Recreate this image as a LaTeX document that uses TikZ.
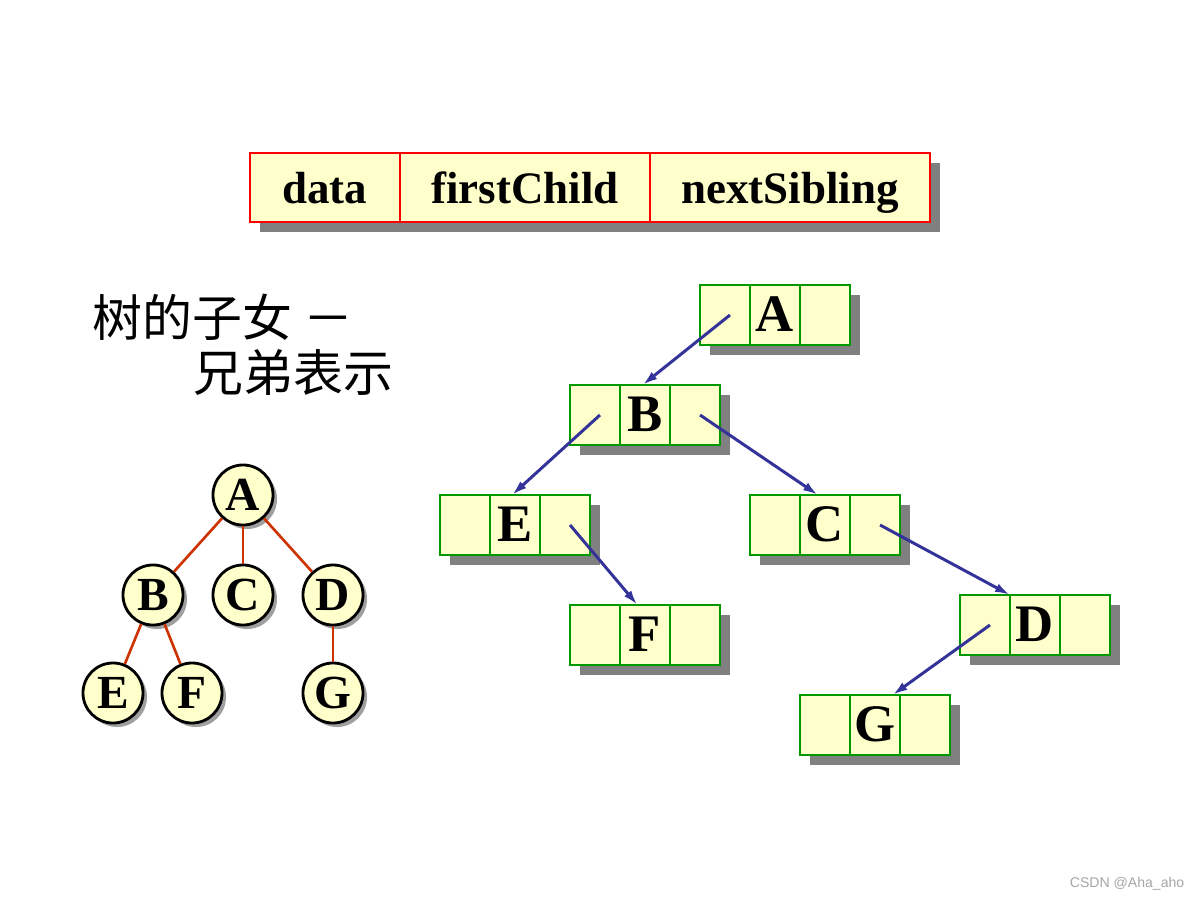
\documentclass[tikz,border=0pt]{standalone}
\usepackage{fontspec}
\setmainfont{Liberation Serif}
\newfontfamily\cjk{Noto Sans CJK SC}
\newfontfamily\wmfont{Liberation Sans}
\usepackage{tikz}
\usetikzlibrary{arrows.meta, calc, positioning, shadows}
\definecolor{cellfill}{HTML}{FFFFCC}
\definecolor{cellgreen}{HTML}{009900}
\definecolor{hdrred}{HTML}{FF0000}
\definecolor{ptrblue}{HTML}{333399}
\definecolor{treered}{HTML}{CC3300}
\definecolor{shadowg}{HTML}{808080}
\tikzset{
  hdrcell/.style   = {rectangle, draw=hdrred, fill=cellfill, line width=0.6pt,
                      minimum height=0.69cm, inner sep=0pt, outer sep=0pt,
                      text height=3.5mm, text depth=0.3mm,
                      font=\fontsize{12.8}{13}\selectfont\bfseries},
  reccell/.style   = {rectangle, draw=cellgreen, fill=cellfill, line width=0.8pt,
                      minimum width=0.5cm, minimum height=0.6cm, inner sep=0pt,
                      outer sep=0pt, text height=3.3mm, text depth=0pt,
                      font=\fontsize{15}{15}\selectfont\bfseries},
  recshadow/.style = {fill=shadowg},
  treenode/.style  = {circle, draw=black, fill=cellfill, line width=0.8pt,
                      minimum size=0.6cm, inner sep=0pt,
                      font=\fontsize{13.5}{13.5}\selectfont\bfseries,
                      drop shadow={shadow xshift=0.4mm, shadow yshift=-0.4mm,
                                   fill=gray!75, opacity=1}},
  treeedge/.style  = {draw=treered, line width=0.75pt},
  ptr/.style       = {draw=ptrblue, line width=0.85pt,
                      -{Latex[length=1.5mm, width=0.9mm]}},
  caption/.style   = {anchor=west, inner sep=0pt,
                      font=\cjk\fontsize{14.2}{14}\selectfont},
}
% one record: shadow, three cells, and the two pointer start points
\newcommand{\recbox}[3]{%
  \fill[recshadow] ($(#2)+(-65,-20)$) rectangle ($(#2)+(85,40)$);
  \node[reccell] (#1m) at (#2) {#3};
  \node[reccell, left=0pt of #1m] (#1l) {};
  \node[reccell, right=0pt of #1m] (#1r) {};
  \coordinate (#1fc) at ($(#1l.center)+(5,0)$);
  \coordinate (#1ns) at ($(#1r.center)+(5,0)$);
}

\begin{document}
\begin{tikzpicture}[x=0.01cm, y=-0.01cm]
    \useasboundingbox[fill=white] (0,0) rectangle (1200,900);
    % node layout
    \fill[recshadow] (260,163) rectangle (940,232);
    \node[hdrcell, minimum width=2.5cm] (first) at (525,187.5) {firstChild};
    \node[hdrcell, minimum width=1.5cm, left=0pt of first] (data) {data};
    \node[hdrcell, minimum width=2.8cm, right=0pt of first] (next) {nextSibling};

    \node[caption] (cap1) at (92,317) {树的子女 －};
    \node[caption] (cap2) at (193,372) {兄弟表示};

    % the tree
    \node[treenode] (tA) at (243,495) {A};
    \node[treenode] (tB) at (153,595) {B};
    \node[treenode] (tC) at (243,595) {C};
    \node[treenode] (tD) at (333,595) {D};
    \node[treenode] (tE) at (113,693) {E};
    \node[treenode] (tF) at (192,693) {F};
    \node[treenode] (tG) at (333,693) {G};
    \draw[treeedge] (tA) -- (tB);
    \draw[treeedge] (tA) -- (tC);
    \draw[treeedge] (tA) -- (tD);
    \draw[treeedge] (tB) -- (tE);
    \draw[treeedge] (tB) -- (tF);
    \draw[treeedge] (tD) -- (tG);

    % child-sibling records
    \recbox{A}{775,315}{A}
    \recbox{B}{645,415}{B}
    \recbox{E}{515,525}{E}
    \recbox{C}{825,525}{C}
    \recbox{F}{645,635}{F}
    \recbox{D}{1035,625}{D}
    \recbox{G}{875,725}{G}
    \draw[ptr] (Afc) -- ($(Bm.north west)!0.45!(Bm.north east)$);
    \draw[ptr] (Bfc) -- ($(Em.north west)!0.44!(Em.north east)$);
    \draw[ptr] (Bns) -- ($(Cm.north west)!0.36!(Cm.north east)$);
    \draw[ptr] (Ens) -- ($(Fm.north west)!0.35!(Fm.north east)$);
    \draw[ptr] (Cns) -- (Dm.north west);
    \draw[ptr] (Dfc) -- ($(Gm.north west)!0.85!(Gm.north east)$);

    \node[anchor=east, inner sep=0pt, text=gray!70,
          font=\wmfont\fontsize{4}{4}\selectfont] (mark) at (1185,884) {CSDN @Aha\_aho};
  \end{tikzpicture}
\end{document}
